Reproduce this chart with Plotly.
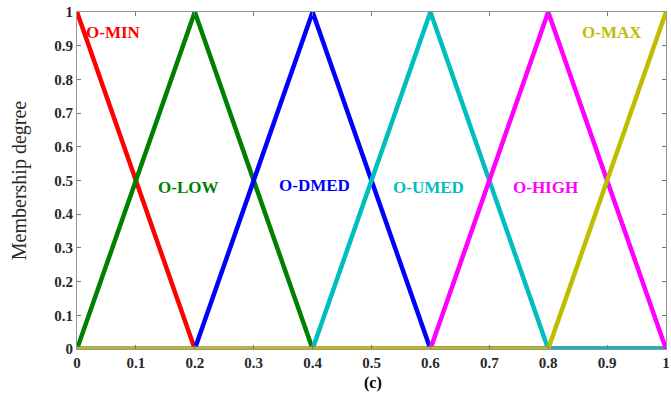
import plotly.graph_objects as go

x_vals = [0, 0.2, 0.4, 0.6, 0.8, 1.0]
names = ["O-MIN", "O-LOW", "O-DMED", "O-UMED", "O-HIGH", "O-MAX"]
peaks = [0, 0.2, 0.4, 0.6, 0.8, 1.0]
colors = ["rgb(255,0,0)", "rgb(0,128,0)", "rgb(0,0,255)", "rgb(0,190,190)", "rgb(255,0,255)", "rgb(190,190,0)"]
label_x = [0.062, 0.188, 0.404, 0.596, 0.795, 0.908]
label_y = [0.94, 0.48, 0.485, 0.48, 0.48, 0.94]
xticks = [0, 0.1, 0.2, 0.3, 0.4, 0.5, 0.6, 0.7, 0.8, 0.9, 1]
yticks = [0, 0.1, 0.2, 0.3, 0.4, 0.5, 0.6, 0.7, 0.8, 0.9, 1]

def tri(p, x):
    return max(0.0, 1 - abs(x - p) / 0.2)

fig = go.Figure()
for name, p, c in zip(names, peaks, colors):
    ys = [tri(p, xv) for xv in x_vals]
    fig.add_trace(go.Scatter(x=x_vals, y=ys, mode="lines", name=name,
                             line=dict(color=c, width=4.5), cliponaxis=False))

for name, lx, ly, c in zip(names, label_x, label_y, colors):
    fig.add_annotation(x=lx, y=ly, text=name, showarrow=False,
                       font=dict(family="Liberation Serif", size=17, color=c, weight="bold"))

fig.add_annotation(x=0.503, y=-0.1, xref="paper", yref="paper", text="(c)", showarrow=False,
                   yanchor="middle",
                   font=dict(family="Liberation Serif", size=16, color="black", weight="bold"))

axis_common = dict(showgrid=False, zeroline=False, showline=True, linecolor="rgb(150,150,150)",
                   linewidth=1, mirror="ticks", ticks="inside", ticklen=4, tickcolor="rgb(120,120,120)",
                   automargin=False,
                   tickfont=dict(family="Liberation Serif", size=15, color="rgb(40,40,40)", weight="bold"))

fig.update_xaxes(range=[0, 1], tickvals=xticks, ticktext=[f"{t:g}" for t in xticks], **axis_common)
fig.update_yaxes(range=[0, 1], tickvals=yticks, ticktext=[f"{t:g}" for t in yticks],
                 title=dict(text="Membership degree", font=dict(family="Liberation Serif", size=20, color="rgb(40,40,40)"), standoff=22),
                 **axis_common)

fig.update_layout(width=671, height=403, showlegend=False,
                  margin=dict(l=77, r=5, t=12, b=54, autoexpand=False),
                  plot_bgcolor="white", paper_bgcolor="white")

fig.write_html("out.html", config={"displayModeBar": False},
               post_script=["document.body.style.margin='0';document.body.style.overflow='hidden';"])
